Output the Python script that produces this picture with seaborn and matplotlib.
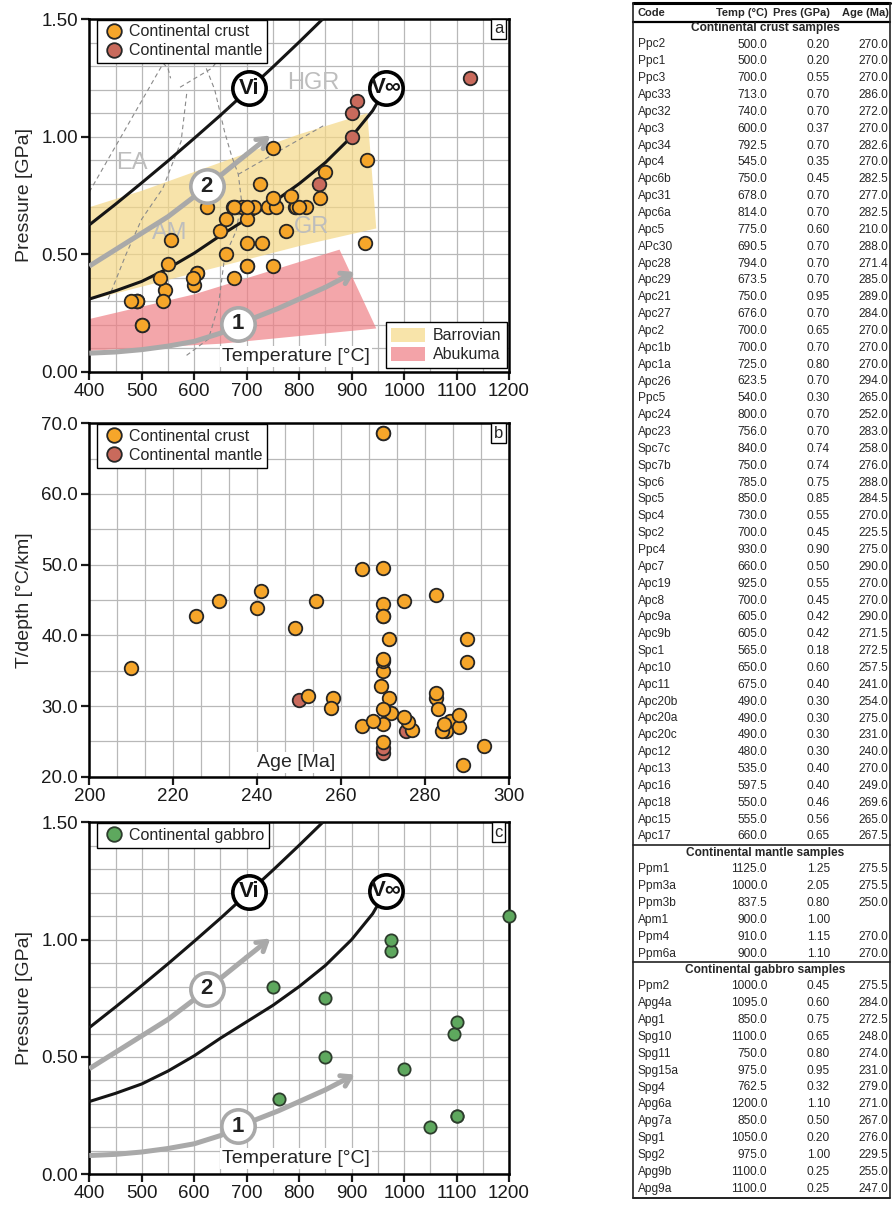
import numpy as np
import pandas as pd
import matplotlib
matplotlib.use('Agg')
import matplotlib.pyplot as plt
import seaborn as sns
from matplotlib import font_manager
from matplotlib.lines import Line2D
from matplotlib.patches import Patch

# ---------------- data (table on the right) ----------------
crust_code = ['Ppc2', 'Ppc1', 'Ppc3', 'Apc33', 'Apc32', 'Apc3', 'Apc34', 'Apc4', 'Apc6b', 'Apc31',
              'Apc6a', 'Apc5', 'APc30', 'Apc28', 'Apc29', 'Apc21', 'Apc27', 'Apc2', 'Apc1b', 'Apc1a',
              'Apc26', 'Ppc5', 'Apc24', 'Apc23', 'Spc7c', 'Spc7b', 'Spc6', 'Spc5', 'Spc4', 'Spc2',
              'Ppc4', 'Apc7', 'Apc19', 'Apc8', 'Apc9a', 'Apc9b', 'Spc1', 'Apc10', 'Apc11', 'Apc20b',
              'Apc20a', 'Apc20c', 'Apc12', 'Apc13', 'Apc16', 'Apc18', 'Apc15', 'Apc17']
crust_temp = [500.0, 500.0, 700.0, 713.0, 740.0, 600.0, 792.5, 545.0, 750.0, 678.0,
              814.0, 775.0, 690.5, 794.0, 673.5, 750.0, 676.0, 700.0, 700.0, 725.0,
              623.5, 540.0, 800.0, 756.0, 840.0, 750.0, 785.0, 850.0, 730.0, 700.0,
              930.0, 660.0, 925.0, 700.0, 605.0, 605.0, 565.0, 650.0, 675.0, 490.0,
              490.0, 490.0, 480.0, 535.0, 597.5, 550.0, 555.0, 660.0]
crust_pres = [0.20, 0.20, 0.55, 0.70, 0.70, 0.37, 0.70, 0.35, 0.45, 0.70,
              0.70, 0.60, 0.70, 0.70, 0.70, 0.95, 0.70, 0.65, 0.70, 0.80,
              0.70, 0.30, 0.70, 0.70, 0.74, 0.74, 0.75, 0.85, 0.55, 0.45,
              0.90, 0.50, 0.55, 0.45, 0.42, 0.42, 0.18, 0.60, 0.40, 0.30,
              0.30, 0.30, 0.30, 0.40, 0.40, 0.46, 0.56, 0.65]
crust_age = [270.0, 270.0, 270.0, 286.0, 272.0, 270.0, 282.6, 270.0, 282.5, 277.0,
             282.5, 210.0, 288.0, 271.4, 285.0, 289.0, 284.0, 270.0, 270.0, 270.0,
             294.0, 265.0, 252.0, 283.0, 258.0, 276.0, 288.0, 284.5, 270.0, 225.5,
             275.0, 290.0, 270.0, 270.0, 290.0, 271.5, 272.5, 257.5, 241.0, 254.0,
             275.0, 231.0, 240.0, 270.0, 249.0, 269.6, 265.0, 267.5]
# T/depth values (same order as the table)
crust_tdepth = [68.6, 68.6, 34.9, 27.9, 29.0, 44.5, 31.1, 42.7, 45.7, 26.6,
                31.9, 35.4, 27.1, 31.1, 26.4, 21.7, 26.5, 29.6, 27.4, 24.9,
                24.4, 49.4, 31.4, 29.6, 31.1, 27.8, 28.7, 27.4, 36.4, 42.7,
                28.4, 36.2, 49.5, 42.7, 39.5, 39.5, 86.1, 29.7, 46.3, 44.8,
                44.8, 44.8, 43.9, 36.7, 41.0, 32.8, 27.2, 27.9]
crust_not_plotted = ['Spc1']

mantle_code = ['Ppm1', 'Ppm3a', 'Ppm3b', 'Apm1', 'Ppm4', 'Ppm6a']
mantle_temp = [1125.0, 1000.0, 837.5, 900.0, 910.0, 900.0]
mantle_pres = [1.25, 2.05, 0.80, 1.00, 1.15, 1.10]
mantle_age = [275.5, 275.5, 250.0, np.nan, 270.0, 270.0]
mantle_tdepth = [26.5, 14.3, 30.8, np.nan, 23.3, 24.1]

gabbro_code = ['Ppm2', 'Apg4a', 'Apg1', 'Spg10', 'Spg11', 'Spg15a', 'Spg4', 'Apg6a', 'Apg7a',
               'Spg1', 'Spg2', 'Apg9b', 'Apg9a']
gabbro_temp = [1000.0, 1095.0, 850.0, 1100.0, 750.0, 975.0, 762.5, 1200.0, 850.0,
               1050.0, 975.0, 1100.0, 1100.0]
gabbro_pres = [0.45, 0.60, 0.75, 0.65, 0.80, 0.95, 0.32, 1.10, 0.50, 0.20, 1.00, 0.25, 0.25]
gabbro_age = [275.5, 284.0, 272.5, 248.0, 274.0, 231.0, 279.0, 271.0, 267.0,
              276.0, 229.5, 255.0, 247.0]

# geotherm curves and P-T paths
vi_T = [400, 450, 500, 550, 600, 650, 700, 750, 800, 845]
vi_P = [0.625, 0.713, 0.804, 0.897, 0.993, 1.091, 1.193, 1.296, 1.402, 1.50]
vinf_T = [400, 450, 500, 550, 600, 650, 700, 750, 800, 850, 900, 940, 966]
vinf_P = [0.31, 0.345, 0.385, 0.44, 0.505, 0.58, 0.65, 0.72, 0.80, 0.89, 1.00, 1.11, 1.21]
path2_T = [400, 450, 500, 550, 600, 650, 700, 745]
path2_P = [0.45, 0.52, 0.59, 0.66, 0.745, 0.835, 0.925, 1.005]
path1_T = [400, 450, 500, 550, 600, 650, 684, 720, 760, 800, 850, 906]
path1_P = [0.08, 0.085, 0.095, 0.11, 0.13, 0.165, 0.20, 0.235, 0.27, 0.31, 0.36, 0.425]

barrovian_T = [400, 500, 600, 700, 800, 930, 947, 800, 600, 400]
barrovian_P = [0.70, 0.77, 0.85, 0.93, 1.01, 1.10, 0.61, 0.535, 0.42, 0.305]
abukuma_T = [400, 600, 877, 947, 650, 400]
abukuma_P = [0.225, 0.33, 0.52, 0.185, 0.12, 0.09]

facies_lines = [
    ([400, 541, 550, 555], [0.765, 1.312, 1.29, 1.248]),
    ([436, 470, 500, 540, 575, 586], [0.31, 0.50, 0.65, 0.78, 0.98, 1.19]),
    ([573, 633, 658, 700], [1.21, 1.29, 1.36, 1.50]),
    ([623, 639, 658, 671, 684, 690, 680, 658, 646, 627, 582],
     [1.29, 1.20, 1.02, 0.92, 0.84, 0.73, 0.60, 0.49, 0.28, 0.14, 0.065]),
    ([684, 849], [0.84, 1.05]),
]
facies_names = ['EA', 'AM', 'HGR', 'GR']
facies_T = [481, 554, 827, 824]
facies_P = [0.89, 0.59, 1.23, 0.617]

crust = pd.DataFrame({'code': crust_code, 'temp': crust_temp, 'pres': crust_pres,
                      'age': crust_age, 'tdepth': crust_tdepth})
mantle = pd.DataFrame({'code': mantle_code, 'temp': mantle_temp, 'pres': mantle_pres,
                       'age': mantle_age, 'tdepth': mantle_tdepth})
gabbro = pd.DataFrame({'code': gabbro_code, 'temp': gabbro_temp, 'pres': gabbro_pres,
                       'age': gabbro_age})

# ---------------- style ----------------
sns.set_theme(style='white')
plt.rcParams['font.family'] = ['Liberation Sans', 'DejaVu Sans']
installed = {f.name for f in font_manager.fontManager.ttflist}
narrow = 'Liberation Sans Narrow' if 'Liberation Sans Narrow' in installed else 'Liberation Sans'

c_crust = '#F6A62A'
c_mantle = '#C96A5C'
c_gabbro = '#5EA85E'
c_edge = '#262626'
c_path = '#A9A9A9'
c_grid = '#B8B8B8'

fig = plt.figure(figsize=(8.92, 12.05), dpi=100)
W, H = 892, 1205


def px_axes(left, top, right, bottom):
    return fig.add_axes([left / W, 1 - bottom / H, (right - left) / W, (bottom - top) / H])


def frame(ax, xmajor, xminor, ymajor, yminor, yfmt):
    ax.set_xticks(xmajor)
    ax.set_xticks(xminor, minor=True)
    ax.set_yticks(ymajor)
    ax.set_yticks(yminor, minor=True)
    ax.set_yticklabels([yfmt.format(v) for v in ymajor])
    ax.grid(which='both', color=c_grid, lw=0.9)
    ax.set_axisbelow(True)
    ax.tick_params(which='minor', length=0)
    ax.tick_params(which='major', direction='out', length=6, width=1.6,
                   labelsize=13.5, colors='#1a1a1a', pad=2, left=True, bottom=True)
    for s in ax.spines.values():
        s.set_color('black')
        s.set_linewidth(1.8)


def panel_letter(ax, letter):
    ax.text(0.975, 0.972, letter, transform=ax.transAxes, ha='center', va='center',
            fontsize=12, zorder=10,
            bbox=dict(boxstyle='square,pad=0.15', fc='white', ec='black', lw=1))


def inner_xlabel(ax, text, y):
    ax.text(0.493, y, text, transform=ax.transAxes, ha='center', va='center',
            fontsize=14, zorder=6,
            bbox=dict(boxstyle='square,pad=0.1', fc='white', ec='none'))


def marker_legend(ax, labels, colors, edge=c_edge):
    handles = [Line2D([0], [0], marker='o', ls='none', ms=10.5, mfc=c, mec=edge, mew=1.3,
                      label=l) for l, c in zip(labels, colors)]
    leg = ax.legend(handles=handles, loc='upper left', bbox_to_anchor=(0.018, 0.998),
                    fontsize=11.5, frameon=True, fancybox=False, framealpha=1,
                    edgecolor='black', borderpad=0.3, handletextpad=0.1,
                    labelspacing=0.25, handlelength=1.6, borderaxespad=0.0)
    leg.get_frame().set_linewidth(1.0)
    leg.set_zorder(10)
    return leg


def circle_label(ax, x, y, text, edge, color):
    ax.plot([x], [y], 'o', ms=24, mfc='white', mec=edge, mew=2.6, zorder=7)
    ax.text(x, y, text, ha='center', va='center', fontsize=16, fontweight='bold',
            family=[narrow, 'DejaVu Sans'], color=color, zorder=8)


def pt_overlays(ax):
    ax.plot(vi_T, vi_P, color='#151515', lw=2.2, zorder=3, solid_capstyle='butt')
    ax.plot(vinf_T, vinf_P, color='#151515', lw=2.2, zorder=3, solid_capstyle='butt')
    for pt, pp in [(path2_T, path2_P), (path1_T, path1_P)]:
        ax.plot(pt[:-1], pp[:-1], color=c_path, lw=3.6, zorder=3, solid_capstyle='butt')
        ax.annotate('', xy=(pt[-1], pp[-1]), xytext=(pt[-2], pp[-2]),
                    arrowprops=dict(arrowstyle='->,head_length=0.55,head_width=0.35',
                                    color=c_path, lw=3.6, shrinkA=0, shrinkB=0),
                    zorder=3)
    circle_label(ax, 705, 1.205, 'Vi', 'black', '#151515')
    circle_label(ax, 966, 1.208, 'V\u221e', 'black', '#151515')
    circle_label(ax, 624, 0.79, '2', c_path, '#222222')
    circle_label(ax, 684, 0.205, '1', c_path, '#222222')


def dots(ax, df, x, y, color, s=95, edge=c_edge):
    sns.scatterplot(data=df, x=x, y=y, color=color, edgecolor=edge, linewidth=1.3,
                    s=s, ax=ax, legend=False, zorder=5, clip_on=False)
    ax.set_xlabel('')
    ax.set_ylabel('')


# ---------------- panel a ----------------
ax_a = px_axes(89.3, 19, 509, 372)
ax_a.set_xlim(400, 1200)
ax_a.set_ylim(0, 1.5)
frame(ax_a, np.arange(400, 1201, 100), np.arange(400, 1201, 50),
      [0, 0.5, 1.0, 1.5], np.arange(0, 1.51, 0.1), '{:.2f}')
ax_a.fill(barrovian_T, barrovian_P, color='#F5D886', alpha=0.7, lw=0, zorder=1)
ax_a.fill(abukuma_T, abukuma_P, color='#EF8086', alpha=0.7, lw=0, zorder=1)
for ft, fp in facies_lines:
    ax_a.plot(ft, fp, color='#8a8a8a', lw=0.8, ls=(0, (4, 3)), zorder=2)
for name, ft, fp in zip(facies_names, facies_T, facies_P):
    ax_a.text(ft, fp, name, ha='center', va='center', fontsize=17, color='#bdbdbd',
              family=[narrow, 'DejaVu Sans'], zorder=2)
pt_overlays(ax_a)
crust_a = crust[~crust['code'].isin(crust_not_plotted)]
mantle_a = mantle[mantle['pres'] <= 1.5]
dots(ax_a, crust_a, 'temp', 'pres', c_crust)
dots(ax_a, mantle_a, 'temp', 'pres', c_mantle)
ax_a.set_ylabel('Pressure [GPa]', fontsize=14, labelpad=6)
inner_xlabel(ax_a, 'Temperature [\u00b0C]', 0.043)
leg_a = marker_legend(ax_a, ['Continental crust', 'Continental mantle'], [c_crust, c_mantle])
ax_a.add_artist(leg_a)
fields = [Patch(fc='#F8E4AA', ec='none', label='Barrovian'),
          Patch(fc='#F3A3A8', ec='none', label='Abukuma')]
leg_f = ax_a.legend(handles=fields, loc='lower right', bbox_to_anchor=(0.995, 0.012),
                    fontsize=11.5, frameon=True, fancybox=False, framealpha=1,
                    edgecolor='black', borderpad=0.35, handletextpad=0.5,
                    labelspacing=0.2, handlelength=2.1, handleheight=1.0, borderaxespad=0.0)
leg_f.get_frame().set_linewidth(1.0)
leg_f.set_zorder(10)
panel_letter(ax_a, 'a')

# ---------------- panel b ----------------
ax_b = px_axes(89.3, 423.3, 509, 776.7)
ax_b.set_xlim(200, 300)
ax_b.set_ylim(20, 70)
frame(ax_b, np.arange(200, 301, 20), np.linspace(200, 300, 16),
      np.arange(20, 71, 10), np.arange(20, 71, 5), '{:.1f}')
crust_b = crust[~crust['code'].isin(crust_not_plotted)]
mantle_b = mantle.dropna(subset=['age'])
mantle_b = mantle_b[mantle_b['tdepth'] >= 20]
dots(ax_b, mantle_b, 'age', 'tdepth', c_mantle)
dots(ax_b, crust_b, 'age', 'tdepth', c_crust)
ax_b.set_ylabel('T/depth [\u00b0C/km]', fontsize=14, labelpad=6)
inner_xlabel(ax_b, 'Age [Ma]', 0.04)
marker_legend(ax_b, ['Continental crust', 'Continental mantle'], [c_crust, c_mantle])
panel_letter(ax_b, 'b')

# ---------------- panel c ----------------
ax_c = px_axes(89.3, 822.3, 509, 1174.3)
ax_c.set_xlim(400, 1200)
ax_c.set_ylim(0, 1.5)
frame(ax_c, np.arange(400, 1201, 100), np.arange(400, 1201, 50),
      [0, 0.5, 1.0, 1.5], np.arange(0, 1.51, 0.1), '{:.2f}')
pt_overlays(ax_c)
dots(ax_c, gabbro, 'temp', 'pres', c_gabbro, s=78, edge='#2d3d2d')
ax_c.set_ylabel('Pressure [GPa]', fontsize=14, labelpad=6)
inner_xlabel(ax_c, 'Temperature [\u00b0C]', 0.045)
marker_legend(ax_c, ['Continental gabbro'], [c_gabbro], edge='#2d3d2d')
panel_letter(ax_c, 'c')

# ---------------- table ----------------
tab = fig.add_axes([0, 0, 1, 1], zorder=-1)
tab.set_xlim(0, W)
tab.set_ylim(H, 0)
tab.axis('off')

tfont = [narrow, 'DejaVu Sans']
tsize = 8.6
hsize = 8.0
x_code, x_temp, x_pres, x_age = 638, 767, 830, 888
x_mid = 765
row_h = 16.85

tab.text(x_code, 13, 'Code', ha='left', va='center', fontsize=hsize, fontweight='bold', family=tfont)
tab.text(768, 13, 'Temp (\u00b0C)', ha='right', va='center', fontsize=hsize, fontweight='bold', family=tfont)
tab.text(830, 13, 'Pres (GPa)', ha='right', va='center', fontsize=hsize, fontweight='bold', family=tfont)
tab.text(889, 13, 'Age (Ma)', ha='right', va='center', fontsize=hsize, fontweight='bold', family=tfont)


def table_block(df, title, y0):
    tab.text(x_mid, y0, title, ha='center', va='center', fontsize=tsize,
             fontweight='bold', family=tfont)
    for i, r in enumerate(df.itertuples()):
        y = y0 + 16.0 + i * row_h
        tab.text(x_code, y, r.code, ha='left', va='center', fontsize=tsize, family=tfont)
        tab.text(x_temp, y, f'{r.temp:.1f}', ha='right', va='center', fontsize=tsize, family=tfont)
        tab.text(x_pres, y, f'{r.pres:.2f}', ha='right', va='center', fontsize=tsize, family=tfont)
        age = '' if pd.isna(r.age) else f'{r.age:.1f}'
        tab.text(x_age, y, age, ha='right', va='center', fontsize=tsize, family=tfont)
    return y0 + 16.0 + len(df) * row_h


y_next = table_block(crust, 'Continental crust samples', 28.5)
tab.plot([633, 890], [y_next - 8.5, y_next - 8.5], color='#222222', lw=1.2)
y_next = table_block(mantle, 'Continental mantle samples', y_next)
tab.plot([633, 890], [y_next - 8.5, y_next - 8.5], color='#222222', lw=1.2)
table_block(gabbro, 'Continental gabbro samples', y_next)

tab.plot([633, 890], [3, 3], color='black', lw=2.2)
tab.plot([633, 890], [21.5, 21.5], color='black', lw=1.6)
tab.plot([633, 890], [1198, 1198], color='#222222', lw=1.4)
tab.plot([633, 633], [3, 1198], color='#222222', lw=1.2)
tab.plot([890, 890], [3, 1198], color='#222222', lw=1.2)

fig.savefig('out.png', dpi=100, facecolor='white')
